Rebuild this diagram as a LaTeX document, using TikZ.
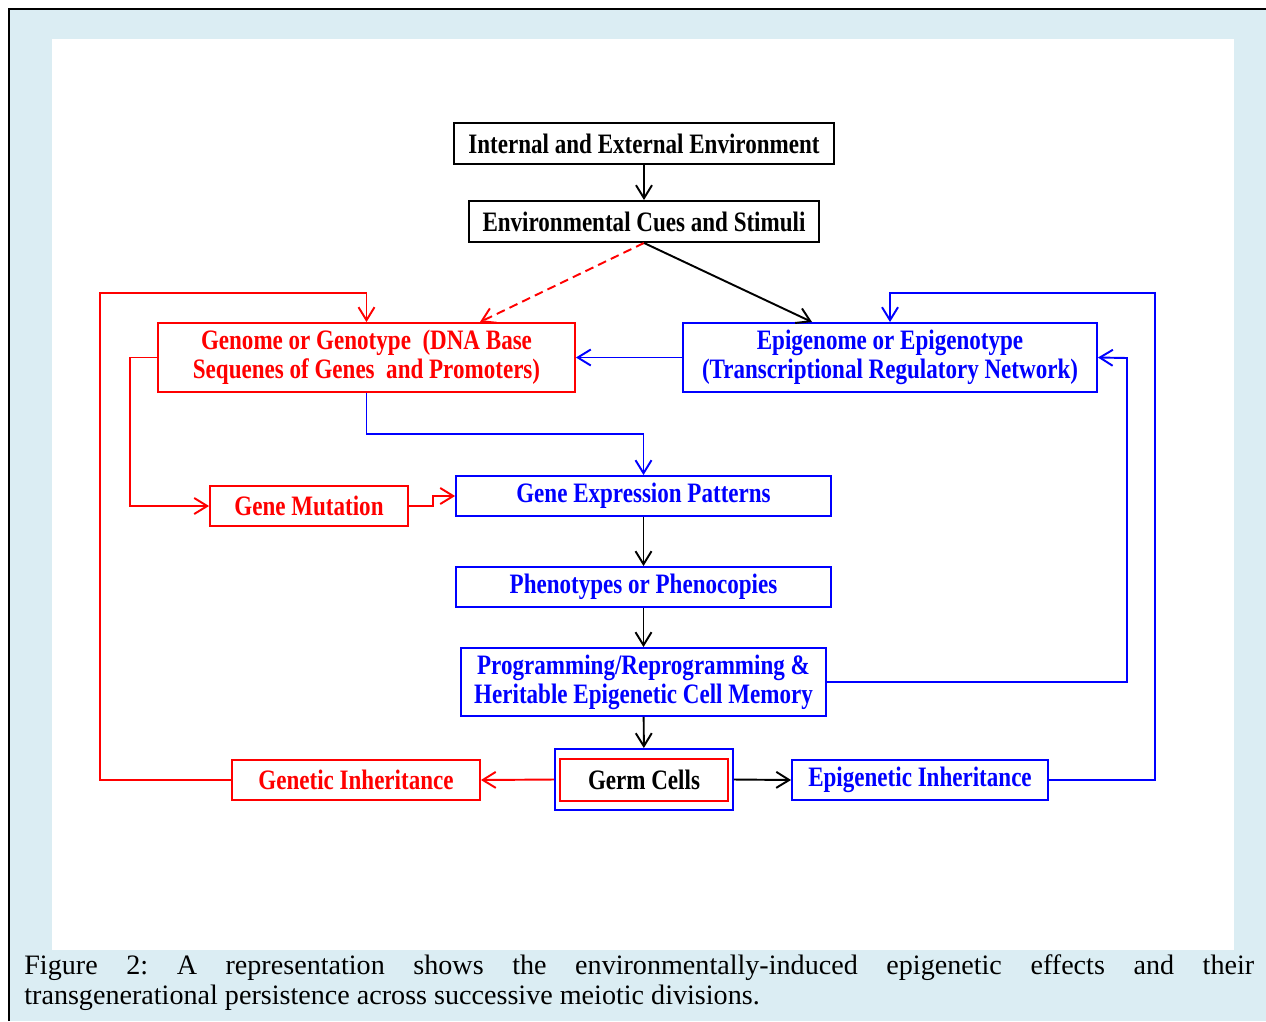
\documentclass[tikz,border=0pt]{standalone}
\usepackage{fontspec}
\newfontfamily\boxfont[FakeStretch=0.82]{Liberation Serif}
\newfontfamily\capfont{Liberation Serif}
\usetikzlibrary{arrows.meta}
\definecolor{bgBlue}{HTML}{DBEDF3}
\definecolor{lineRed}{HTML}{FF0000}
\definecolor{lineBlue}{HTML}{0000FF}

\begin{document}
\begin{tikzpicture}
[x=0.02cm,y=-0.02cm,
  boxBlack/.style={draw=black,line width=1.1pt,text=black,inner sep=0pt,align=center,font=\boxfont\bfseries\fontsize{16}{16.5}\selectfont},%
  boxRed/.style={boxBlack,draw=lineRed,text=lineRed},%
  boxBlue/.style={boxBlack,draw=lineBlue,text=lineBlue},%
  arrBlack/.style={-{Straight Barb[length=2.6mm,width=3.2mm]},line width=1.1pt,black},%
  arrRed/.style={arrBlack,lineRed},%
  arrBlue/.style={arrBlack,lineBlue}]
%% frame and caption
\useasboundingbox (0,0) rectangle (1266,1021);
\fill[bgBlue] (10,10) rectangle (1266,1021);
\fill[white] (52,39) rectangle (1234,950);
\draw[line width=1.4pt] (9,1021) -- (9,9) -- (1266,9);
\node (caption) at (24,954) [anchor=north west,text width=24.6cm,align=justify,inner sep=0pt,
  font=\capfont\frenchspacing\fontsize{16}{17.2}\selectfont]
  {Figure 2: A representation shows the environmentally-induced epigenetic effects and their\linebreak transgenerational persistence across successive meiotic divisions.};
%% boxes
\node (envInt) at (644,143.5) [boxBlack,minimum width=7.6cm,minimum height=0.82cm] {Internal and External Environment};
\node (envCues) at (644,221.5) [boxBlack,minimum width=7.0cm,minimum height=0.82cm] {Environmental Cues and Stimuli};
\node (genome) at (366.5,357.5) [boxRed,minimum width=8.34cm,minimum height=1.38cm] {Genome or Genotype \ (DNA Base\\Sequenes of Genes \ and Promoters)};
\node (epigenome) at (890,357.5) [boxBlue,minimum width=8.28cm,minimum height=1.38cm] {Epigenome or Epigenotype\\(Transcriptional Regulatory Network)};
\node (mutation) at (309,506) [boxRed,minimum width=3.96cm,minimum height=0.8cm] {Gene Mutation};
\node (expression) at (643.5,496) [boxBlue,minimum width=7.5cm,minimum height=0.8cm] {Gene Expression Patterns};
\node (phenotype) at (643.5,587) [boxBlue,minimum width=7.5cm,minimum height=0.8cm] {Phenotypes or Phenocopies};
\node (programming) at (643.5,682) [boxBlue,minimum width=7.3cm,minimum height=1.36cm] {Programming/Reprogramming \&\\Heritable Epigenetic Cell Memory};
\node (germOuter) at (644,779.5) [boxBlue,minimum width=3.56cm,minimum height=1.22cm] {};
\node (germ) at (644,780) [boxRed,text=black,minimum width=3.36cm,minimum height=0.84cm] {Germ Cells};
\node (genetic) at (356,780) [boxRed,minimum width=4.96cm,minimum height=0.8cm] {Genetic Inheritance};
\node (epigenetic) at (920,780) [boxBlue,minimum width=5.12cm,minimum height=0.8cm] {Epigenetic Inheritance};
%% connectors
\foreach \startnode/\endnode in {envInt/envCues, expression/phenotype,
  phenotype/programming, programming/germOuter}
{
  \draw[arrBlack] (\startnode) -- (\endnode);
}
\draw[arrRed,dash pattern=on 5pt off 3pt] (envCues.south) -- ([xshift=2.27cm]genome.north);
\draw[arrBlack] (envCues.south) -- ([xshift=-1.56cm]epigenome.north);
\draw[arrRed] (genetic.west) -| (100,293) -| (genome.north);
\draw[arrRed] (genome.west) -| (130,506) -- (mutation.west);
\draw[arrRed] (mutation.east) -- ++(24,0) |- (expression.west);
\draw[arrBlue] (genome.south) -- ++(0,41) -| (expression.north);
\draw[arrBlue] (epigenome.west) -- (genome.east);
\draw[arrBlue] (programming.east) -| (1127,358) -- (epigenome.east);
\draw[arrBlue] (epigenetic.east) -| (1155,293) -| (epigenome.north);
\draw[arrRed] (germOuter.west) -- (genetic.east);
\draw[arrBlack] (germOuter.east) -- (epigenetic.west);
\end{tikzpicture}
\end{document}
